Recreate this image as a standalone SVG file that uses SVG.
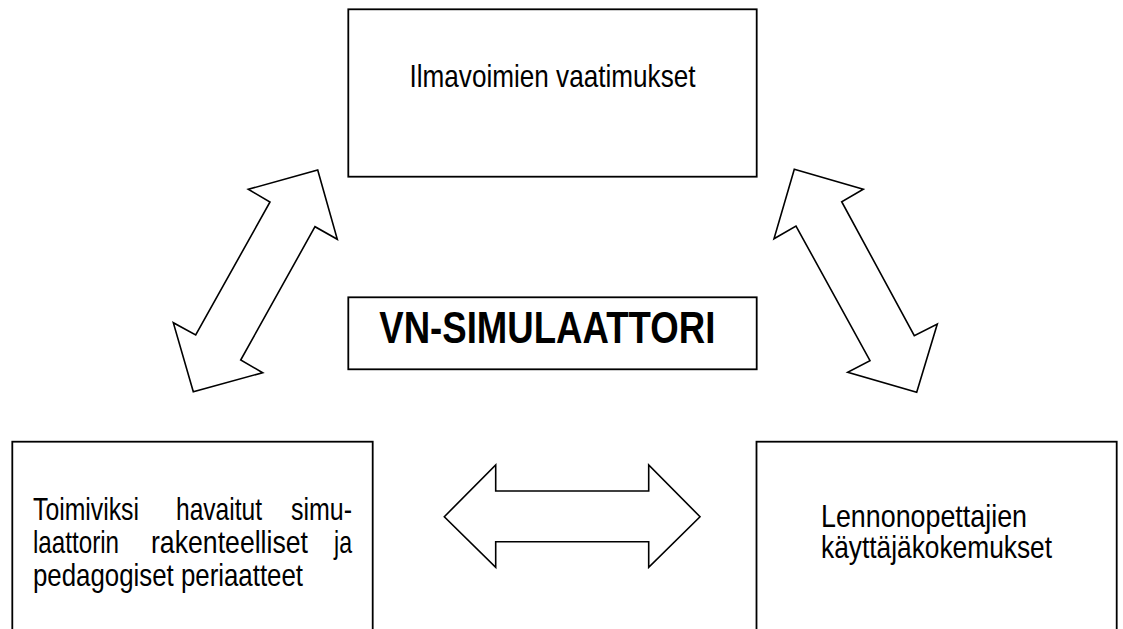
<svg xmlns="http://www.w3.org/2000/svg" width="1123" height="629" viewBox="0 0 1123 629">
<style>
.box{fill:#ffffff;stroke:#000000;stroke-width:1.8}
.arr{fill:#ffffff;stroke:#000000;stroke-width:1.6;stroke-linejoin:miter}
.t{font-family:"Liberation Sans",Arial,sans-serif;font-size:32px;fill:#000000}
.b{font-family:"Liberation Sans",Arial,sans-serif;font-size:45px;font-weight:bold;fill:#000000}
</style>
<rect width="1123" height="629" fill="#ffffff"/>
<g id="connectors">
<polygon class="arr" points="317.7,170 337.3,239.3 315,226.7 240.7,360 262.7,372.7 193.3,391.7 173.3,322.7 195.7,335 270,202 248.3,189.3"/>
<polygon class="arr" points="794.3,169.3 863.3,189.3 841.7,201.7 914.3,335.7 937.3,324 916.7,392.3 847.7,372.3 870,360.7 796,226 774,238.7"/>
<polygon class="arr" points="444.3,516.7 495.7,465 495.7,491 648.7,491 648.7,465 700,516.7 648.7,567.3 648.7,541.7 495.7,541.7 495.7,567.3"/>
</g>
<g id="node-ilmavoimat">
<rect class="box" x="348.3" y="9.3" width="408.4" height="167.4"/>
<text class="t" x="409.5" y="87" textLength="286" lengthAdjust="spacingAndGlyphs">Ilmavoimien vaatimukset</text>
</g>
<g id="node-vn">
<rect class="box" x="348.3" y="297.3" width="408.4" height="72"/>
<text class="b" x="379.3" y="343.3" textLength="336" lengthAdjust="spacingAndGlyphs">VN-SIMULAATTORI</text>
</g>
<g id="node-periaatteet">
<rect class="box" x="12.3" y="441.7" width="360.4" height="200"/>
<text class="t" y="520">
<tspan x="33" textLength="106" lengthAdjust="spacingAndGlyphs">Toimiviksi</tspan>
<tspan x="176" textLength="86" lengthAdjust="spacingAndGlyphs">havaitut</tspan>
<tspan x="291" textLength="61" lengthAdjust="spacingAndGlyphs">simu-</tspan>
</text>
<text class="t" y="553">
<tspan x="33" textLength="86" lengthAdjust="spacingAndGlyphs">laattorin</tspan>
<tspan x="151" textLength="157" lengthAdjust="spacingAndGlyphs">rakenteelliset</tspan>
<tspan x="334" textLength="18" lengthAdjust="spacingAndGlyphs">ja</tspan>
</text>
<text class="t" x="33" y="586" textLength="270" lengthAdjust="spacingAndGlyphs">pedagogiset periaatteet</text>
</g>
<g id="node-lennonopettajat">
<rect class="box" x="756.5" y="441.7" width="360.2" height="200"/>
<text class="t" x="821" y="527" textLength="206" lengthAdjust="spacingAndGlyphs">Lennonopettajien</text>
<text class="t" x="821" y="558" textLength="231" lengthAdjust="spacingAndGlyphs">käyttäjäkokemukset</text>
</g>
</svg>
